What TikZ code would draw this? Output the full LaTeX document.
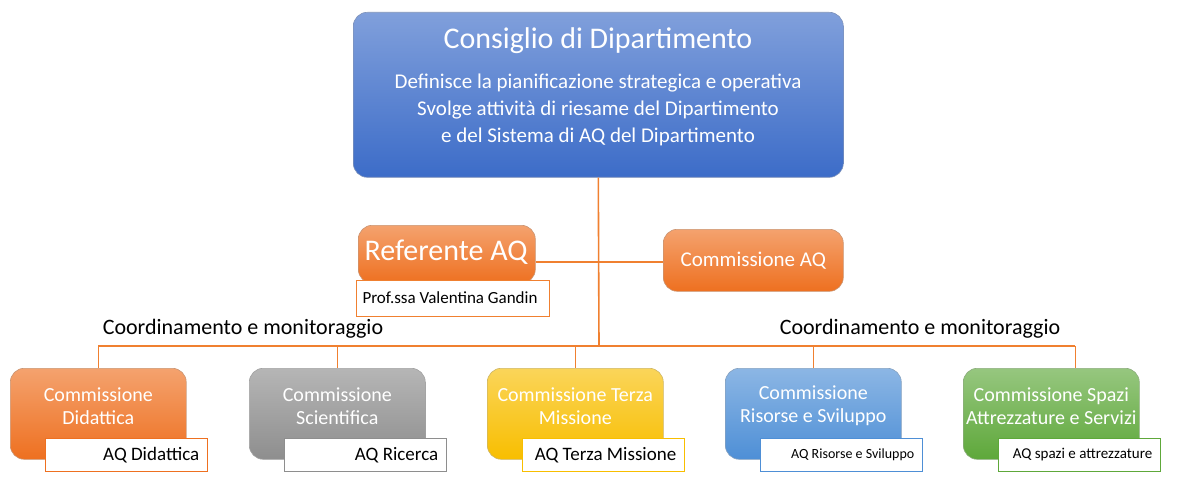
\documentclass[tikz,border=0pt]{standalone}
\usepackage{fontspec}
\setmainfont{Carlito}
\begin{document}
\begin{tikzpicture}[x=1pt,y=-1pt,
 box/.style={rounded corners=14pt,draw=#1!70!black!60,line width=0.6pt,top color=#1!65!white,bottom color=#1,text=white,align=center,inner sep=0pt},
 sub/.style={draw=#1,fill=white,line width=0.8pt,inner sep=0pt,align=right},
 ln/.style={draw=orange3,line width=1.6pt}]
\definecolor{blue1}{HTML}{3C6CC8}
\definecolor{orange2}{HTML}{EE7020}
\definecolor{orange3}{HTML}{F08030}
\definecolor{gray2}{HTML}{8E8E8E}
\definecolor{yellow2}{HTML}{F8BE00}
\definecolor{blue2}{HTML}{4E8FD6}
\definecolor{green2}{HTML}{5EA83A}
\useasboundingbox (0,0) rectangle (1200,484);
% connectors
\coordinate (j1) at (599,262);
\coordinate (j2) at (599,346);
\coordinate (hl) at (98,346);
\coordinate (hr) at (1075,346);
\node[box=blue1,minimum width=490pt,minimum height=165pt,anchor=north west] (top) at (353,12) {};
\node[box=orange2,minimum width=177pt,minimum height=58pt,anchor=north west] (ref) at (358,225) {};
\node[box=orange2,minimum width=180pt,minimum height=62pt,anchor=north west] (caq) at (663,229) {\fontsize{21}{24}\selectfont Commissione AQ};
\draw[ln] (top.south) -- (j2);
\draw[ln] (ref.east|-j1) -- (caq.west|-j1);
\draw[ln] (hl) -- (hr);
\node[font=\fontsize{22}{24}\selectfont] (cl) at (243,329) {Coordinamento e monitoraggio};
\node[font=\fontsize{22}{24}\selectfont] (cr) at (920,329) {Coordinamento e monitoraggio};
\node[text=white,font=\fontsize{30}{32}\selectfont] (tt) at (598,41) {Consiglio di Dipartimento};
\node[text=white,font=\fontsize{21}{27}\selectfont,align=center] (td) at (598,110) {Definisce la pianificazione strategica e operativa\\Svolge attività di riesame del Dipartimento\\e del Sistema di AQ del Dipartimento};
\node[text=white,font=\fontsize{30}{32}\selectfont] (rt) at (446,252) {Referente AQ};
\node[sub=orange3,minimum width=193pt,minimum height=36pt,anchor=north west,align=left] (rs) at (356,280) {};
\node[font=\fontsize{17}{20}\selectfont,anchor=west] (rst) at (359,298) {Prof.ssa Valentina Gandin};
% bottom row
\foreach \i/\x/\dx/\c/\t/\s/\fs in {
 a/10/0/orange2/{Commissione\\Didattica}/{AQ Didattica}/19,
 b/249/0/gray2/{Commissione\\Scientifica}/{AQ Ricerca}/19,
 c/487/0/yellow2/{Commissione Terza\\Missione}/{AQ Terza Missione}/19,
 d/725/0/blue2/{Commissione\\Risorse e Sviluppo}/{AQ Risorse e Sviluppo}/14,
 e/963/24/green2/{Commissione Spazi\\Attrezzature e Servizi}/{AQ spazi e attrezzature}/15}{
 \node[box=\c,minimum width=176pt,minimum height=91pt,anchor=north west] (b\i) at (\x,368) {};
 \node[text=white,font=\fontsize{20}{23}\selectfont,align=center] (bt\i) at ([yshift=8pt]b\i.center) {\t};
 \node[sub=\c,minimum width=162pt,minimum height=33pt,anchor=north west] (bs\i) at (\x+35,438) {};
 \node[font=\fontsize{\fs}{18}\selectfont,anchor=east] (bst\i) at ([xshift=-5pt]bs\i.east) {\s};
 \draw[ln] ([xshift=\dx pt]b\i.north|-hl) -- ([xshift=\dx pt]b\i.north);
}
\end{tikzpicture}
\end{document}
